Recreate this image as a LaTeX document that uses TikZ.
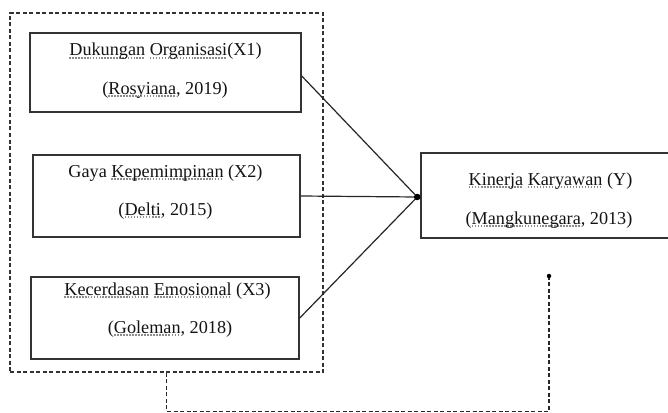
\documentclass[tikz,border=0pt]{standalone}
\usepackage{fontspec}
\setmainfont{Liberation Serif}
\usetikzlibrary{calc}
\newsavebox\spkbox
\newcommand\spk[1]{\sbox\spkbox{#1}\rlap{\hbox to\wd\spkbox{\color{black!45}\xleaders\hbox{\rule[-0.3ex]{0.09em}{0.09em}\hskip0.07em}\hfill}}\usebox\spkbox}
\begin{document}
\begin{tikzpicture}[x=1pt,y=-1pt,
  box/.style={draw=black!80, line width=1.5pt, inner sep=0pt},
  txt/.style={anchor=base, inner sep=0pt, font=\fontsize{18.2}{22}\selectfont, text=black!92},
  grpbox/.style={draw=black!80, line width=1.4pt, dash pattern=on 4pt off 2.5pt},
  link/.style={draw=black!85, line width=1.2pt},
  dlink/.style={draw=black!85, line width=1.4pt, dash pattern=on 4pt off 2.5pt},
  dotm/.style={circle, fill=black, inner sep=0pt, minimum size=#1}]
\useasboundingbox (0,0) rectangle (668,412);
\fill[white] (0,0) rectangle (668,412);
% group
\node[grpbox, minimum width=313pt, minimum height=359pt] (grp) at (166.5,192.5) {};
% boxes
\node[box, minimum width=271pt, minimum height=79pt] (b1) at (165.5,72.5) {};
\node[box, minimum width=267pt, minimum height=82pt] (b2) at (166.5,196) {};
\node[box, minimum width=268pt, minimum height=82pt] (b3) at (165,318) {};
\node[box, minimum width=259pt, minimum height=85pt] (y) at (550.5,195.5) {};
% texts
\node[txt] (t1a) at (165.5,56) {\spk{Dukungan} \spk{Organisasi}(X1)};
\node[txt] (t1b) at (165,94) {(\spk{Rosyiana}, 2019)};
\node[txt] (t2a) at (165.5,177) {Gaya \spk{Kepemimpinan} (X2)};
\node[txt] (t2b) at (165.5,215) {(\spk{Delti}, 2015)};
\node[txt] (t3a) at (167.5,295) {\spk{Kecerdasan} \spk{Emosional} (X3)};
\node[txt] (t3b) at (170,333) {(\spk{Goleman}, 2018)};
\node[txt] (tya) at (550.5,185) {\spk{Kinerja} \spk{Karyawan} (Y)};
\node[txt] (tyb) at (549,224) {(\spk{Mangkunegara}, 2013)};
% junction
\coordinate (j) at ($(y.west)+(-3,1.5)$);
\draw[link] ($(b1.east)+(0,3.5)$) -- (j);
\draw[link] (b2.east) -- (j);
\draw[link] (b3.east) -- (j);
\node[dotm=6.5pt] (jd) at (j) {};
% bottom dashed link
\coordinate (e) at (549,276);
\coordinate (low) at ($(grp.south)+(0,38.5)$);
\draw[dlink] (grp.south) -- (low) -| (e);
\node[dotm=4.5pt] (ed) at (e) {};
\end{tikzpicture}
\end{document}
